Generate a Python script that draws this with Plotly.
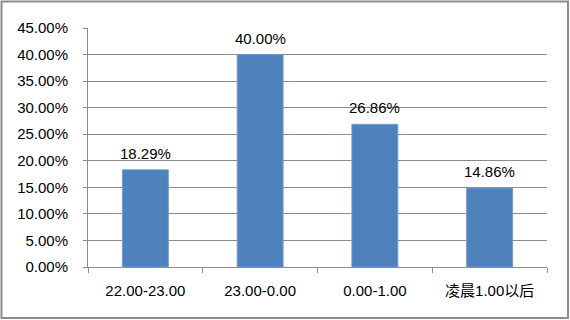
import plotly.graph_objects as go

categories = ["22.00-23.00", "23.00-0.00", "0.00-1.00", "凌晨1.00以后"]
values = [18.29, 40.00, 26.86, 14.86]
y_ticks = [0, 5, 10, 15, 20, 25, 30, 35, 40, 45]
y_tick_labels = [f"{v:.2f}%" for v in y_ticks]

W, H = 570, 320
L, R, T, B = 88, 23, 28, 53
pw, ph = W - L - R, H - T - B

fig = go.Figure(go.Bar(
    x=categories, y=values,
    marker=dict(color="#4F81BD", line=dict(color="#6E9BD2", width=1)),
    width=0.4,
    cliponaxis=False,
))

font = dict(family="Liberation Sans, Arial, Noto Sans CJK SC", size=15, color="#000000")

annotations = [
    dict(x=c, y=v, xref="x", yref="y", text=f"{v:.2f}%", showarrow=False,
         yanchor="bottom", yshift=6, font=font)
    for c, v in zip(categories, values)
]

fig.update_layout(
    width=W, height=H,
    margin=dict(l=L, r=R, t=T, b=B),
    paper_bgcolor="white", plot_bgcolor="white",
    showlegend=False,
    font=font,
    annotations=annotations,
    xaxis=dict(
        showline=True, linecolor="#8C8C8C", linewidth=1,
        ticks="outside", tickson="boundaries", ticklen=5, tickcolor="#8C8C8C",
        tickfont=font, showgrid=False, ticklabelstandoff=10,
    ),
    yaxis=dict(
        range=[0, 45], tickvals=y_ticks, ticktext=y_tick_labels,
        showline=True, linecolor="#8C8C8C", linewidth=1,
        ticks="outside", ticklen=4, tickcolor="#8C8C8C",
        showgrid=True, gridcolor="#8C8C8C", gridwidth=1,
        tickfont=font, zeroline=False, ticklabelstandoff=12,
    ),
    shapes=[dict(
        type="rect", xref="paper", yref="paper",
        x0=(1.5 - L) / pw, x1=(568 - L) / pw,
        y0=(H - B - 318) / ph, y1=(H - B - 1.5) / ph,
        line=dict(color="#8C8C8C", width=2), layer="below",
    )],
)

fig.write_html("out.html", config={"displayModeBar": False},
               post_script="document.body.style.margin='0';document.body.style.overflow='hidden';")
